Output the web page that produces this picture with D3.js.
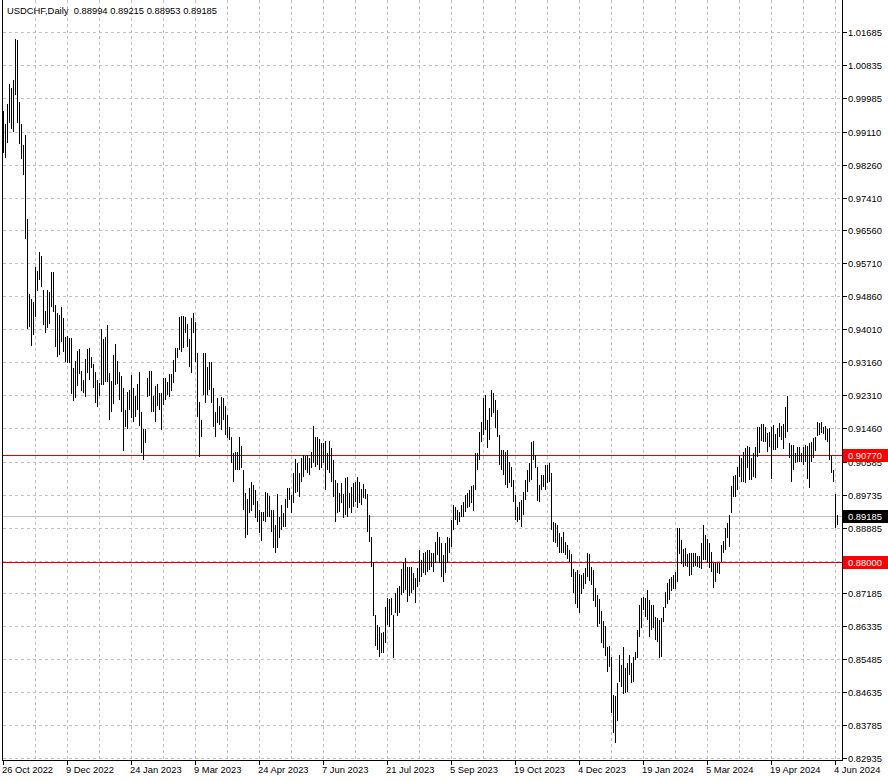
<!DOCTYPE html>
<html>
<head>
<meta charset="utf-8">
<script src="https://cdn.jsdelivr.net/npm/d3@7/dist/d3.min.js"></script>
<style>
html,body{margin:0;padding:0;background:#fff;}
svg{display:block;}
text{font-family:"Liberation Sans",Arial,sans-serif;}
</style>
</head>
<body>
<script>
// ---------- DATA ----------
const symbol = "USDCHF,Daily";
const lastOHLC = ["0.88994", "0.89215", "0.88953", "0.89185"];
const startDate = "2022-10-26";
const endDate = "2024-06-05";
const holidays = ["2023-12-25", "2024-01-01", "2024-03-29"];

const highs = [
0.9964,0.9931,0.9982,1.0034,1.0024,1.0045,1.0150,1.0148,0.9988,0.9931,
0.9877,0.9902,0.9686,0.9492,0.9479,0.9471,0.9562,0.9551,0.9600,0.9590,
0.9502,0.9448,0.9502,0.9497,0.9549,0.9549,0.9463,0.9443,0.9438,0.9458,
0.9430,0.9381,0.9383,0.9378,0.9378,0.9301,0.9319,0.9345,0.9350,0.9293,
0.9270,0.9324,0.9350,0.9352,0.9329,0.9311,0.9290,0.9270,0.9262,0.9401,
0.9376,0.9381,0.9412,0.9288,0.9267,0.9334,0.9363,0.9319,0.9290,0.9280,
0.9249,0.9192,0.9239,0.9244,0.9283,0.9249,0.9228,0.9259,0.9290,0.9187,
0.9143,0.9143,0.9275,0.9293,0.9293,0.9228,0.9254,0.9259,0.9236,0.9236,
0.9275,0.9275,0.9264,0.9285,0.9285,0.9321,0.9352,0.9352,0.9432,0.9435,
0.9435,0.9432,0.9414,0.9376,0.9430,0.9443,0.9420,0.9340,0.9213,0.9166,
0.9340,0.9340,0.9303,0.9316,0.9316,0.9249,0.9187,0.9223,0.9203,0.9226,
0.9223,0.9203,0.9179,0.9148,0.9123,0.9081,0.9084,0.9084,0.9123,0.9099,
0.9037,0.8978,0.8962,0.8991,0.9006,0.8999,0.8986,0.8957,0.8934,0.8929,
0.8929,0.8981,0.8978,0.8970,0.8934,0.8934,0.8895,0.8975,0.8916,0.8947,
0.8926,0.8962,0.8991,0.8991,0.8973,0.9030,0.9066,0.9055,0.9030,0.9068,
0.9076,0.9073,0.9076,0.9068,0.9084,0.9151,0.9123,0.9123,0.9117,0.9107,
0.9107,0.9112,0.9081,0.9112,0.9094,0.9063,0.9012,0.9004,0.8978,0.9004,
0.8975,0.9017,0.9019,0.8978,0.8993,0.9004,0.9006,0.9019,0.9006,0.8988,
0.9001,0.8988,0.8975,0.8921,0.8864,0.8800,0.8663,0.8637,0.8632,0.8616,
0.8619,0.8683,0.8707,0.8704,0.8707,0.8663,0.8720,0.8733,0.8738,0.8782,
0.8800,0.8810,0.8787,0.8787,0.8787,0.8771,0.8758,0.8784,0.8831,0.8805,
0.8823,0.8826,0.8831,0.8831,0.8823,0.8823,0.8851,0.8877,0.8864,0.8849,
0.8818,0.8849,0.8864,0.8862,0.8908,0.8947,0.8942,0.8934,0.8929,0.8947,
0.8955,0.8973,0.8978,0.8986,0.8996,0.8999,0.9081,0.9081,0.9135,0.9161,
0.9223,0.9231,0.9166,0.9197,0.9244,0.9236,0.9218,0.9192,0.9128,0.9089,
0.9089,0.9084,0.9089,0.9058,0.9045,0.9012,0.8973,0.8942,0.8955,0.8960,
0.8980,0.9012,0.9037,0.9055,0.9110,0.9112,0.9076,0.9045,0.8999,0.9024,
0.9024,0.9050,0.9050,0.9055,0.9030,0.8903,0.8901,0.8895,0.8875,0.8864,
0.8877,0.8851,0.8844,0.8831,0.8820,0.8782,0.8774,0.8779,0.8769,0.8766,
0.8771,0.8784,0.8823,0.8820,0.8787,0.8779,0.8733,0.8715,0.8704,0.8673,
0.8647,0.8634,0.8580,0.8583,0.8554,0.8456,0.8454,0.8487,0.8560,0.8534,
0.8580,0.8526,0.8539,0.8560,0.8539,0.8554,0.8567,0.8624,0.8689,0.8707,
0.8709,0.8707,0.8727,0.8702,0.8689,0.8689,0.8658,0.8655,0.8650,0.8655,
0.8683,0.8722,0.8745,0.8756,0.8761,0.8766,0.8774,0.8888,0.8888,0.8857,
0.8833,0.8836,0.8820,0.8823,0.8823,0.8823,0.8823,0.8815,0.8815,0.8849,
0.8895,0.8869,0.8859,0.8849,0.8826,0.8797,0.8797,0.8797,0.8797,0.8844,
0.8854,0.8888,0.8901,0.8921,0.8996,0.9022,0.9024,0.9045,0.9073,0.9068,
0.9084,0.9094,0.9099,0.9097,0.9068,0.9081,0.9097,0.9148,0.9148,0.9156,
0.9156,0.9148,0.9133,0.9135,0.9148,0.9154,0.9130,0.9146,0.9159,0.9151,
0.9156,0.9200,0.9228,0.9107,0.9102,0.9102,0.9081,0.9097,0.9097,0.9081,
0.9097,0.9102,0.9099,0.9107,0.9110,0.9120,0.9123,0.9161,0.9159,0.9161,
0.9148,0.9151,0.9143,0.9146,0.9073,0.9037,0.8975,0.89215
];

const lows = [
0.9856,0.9843,0.9882,0.9933,0.9918,0.9910,1.0006,0.9933,0.9879,0.9840,
0.9799,0.9634,0.9401,0.9407,0.9358,0.9386,0.9432,0.9500,0.9528,0.9510,
0.9412,0.9391,0.9404,0.9414,0.9458,0.9445,0.9355,0.9329,0.9334,0.9368,
0.9342,0.9316,0.9314,0.9314,0.9234,0.9216,0.9223,0.9254,0.9285,0.9241,
0.9236,0.9226,0.9288,0.9270,0.9301,0.9249,0.9210,0.9200,0.9228,0.9257,
0.9257,0.9264,0.9264,0.9166,0.9187,0.9208,0.9257,0.9259,0.9218,0.9187,
0.9086,0.9148,0.9143,0.9192,0.9172,0.9161,0.9174,0.9192,0.9151,0.9081,
0.9063,0.9107,0.9226,0.9228,0.9187,0.9187,0.9161,0.9203,0.9192,0.9141,
0.9205,0.9218,0.9231,0.9226,0.9241,0.9262,0.9290,0.9327,0.9347,0.9342,
0.9352,0.9391,0.9355,0.9303,0.9288,0.9391,0.9316,0.9174,0.9071,0.9123,
0.9231,0.9210,0.9231,0.9244,0.9210,0.9148,0.9123,0.9159,0.9154,0.9141,
0.9166,0.9128,0.9120,0.9115,0.9055,0.9006,0.9037,0.9037,0.9037,0.9043,
0.8934,0.8862,0.8869,0.8926,0.8931,0.8947,0.8913,0.8903,0.8875,0.8854,
0.8906,0.8903,0.8916,0.8916,0.8877,0.8836,0.8823,0.8836,0.8862,0.8882,
0.8890,0.8890,0.8939,0.8960,0.8926,0.8952,0.8978,0.8980,0.8968,0.9006,
0.9019,0.9037,0.9030,0.9024,0.9043,0.9055,0.9045,0.9050,0.9037,0.9043,
0.9055,0.8986,0.9037,0.9030,0.9006,0.8968,0.8903,0.8926,0.8929,0.8952,
0.8913,0.8921,0.8916,0.8939,0.8926,0.8942,0.8955,0.8939,0.8952,0.8947,
0.8965,0.8963,0.8877,0.8851,0.8787,0.8660,0.8583,0.8572,0.8554,0.8565,
0.8565,0.8591,0.8637,0.8632,0.8663,0.8552,0.8668,0.8660,0.8668,0.8715,
0.8720,0.8727,0.8696,0.8712,0.8720,0.8727,0.8694,0.8735,0.8748,0.8761,
0.8771,0.8766,0.8774,0.8779,0.8787,0.8774,0.8797,0.8818,0.8797,0.8761,
0.8748,0.8771,0.8797,0.8823,0.8838,0.8882,0.8908,0.8895,0.8903,0.8916,
0.8916,0.8929,0.8939,0.8942,0.8952,0.8931,0.8986,0.9037,0.9063,0.9110,
0.9128,0.9141,0.9094,0.9115,0.9174,0.9185,0.9146,0.9123,0.9050,0.9037,
0.9024,0.8999,0.8991,0.9004,0.8993,0.8955,0.8908,0.8903,0.8908,0.8890,
0.8921,0.8960,0.8980,0.9006,0.9012,0.9063,0.9043,0.8957,0.8955,0.8986,
0.8993,0.8986,0.9004,0.9006,0.8882,0.8851,0.8849,0.8838,0.8823,0.8823,
0.8823,0.8818,0.8807,0.8800,0.8761,0.8720,0.8691,0.8681,0.8668,0.8717,
0.8730,0.8743,0.8761,0.8751,0.8740,0.8699,0.8683,0.8632,0.8640,0.8591,
0.8578,0.8557,0.8516,0.8528,0.8410,0.8358,0.8332,0.8389,0.8490,0.8477,
0.8459,0.8461,0.8464,0.8508,0.8487,0.8490,0.8547,0.8552,0.8606,0.8629,
0.8676,0.8658,0.8650,0.8606,0.8624,0.8629,0.8598,0.8593,0.8552,0.8554,
0.8645,0.8681,0.8691,0.8702,0.8725,0.8730,0.8730,0.8748,0.8820,0.8795,
0.8787,0.8789,0.8787,0.8764,0.8766,0.8787,0.8789,0.8787,0.8784,0.8782,
0.8805,0.8805,0.8797,0.8784,0.8774,0.8733,0.8748,0.8771,0.8769,0.8800,
0.8823,0.8831,0.8862,0.8838,0.8926,0.8968,0.8968,0.8986,0.9019,0.9006,
0.9006,0.9004,0.9043,0.9012,0.9012,0.9019,0.9017,0.9071,0.9081,0.9112,
0.9110,0.9110,0.9084,0.9097,0.9014,0.9089,0.9089,0.9094,0.9123,0.9115,
0.9092,0.9120,0.9135,0.9068,0.9006,0.9037,0.9055,0.9058,0.9058,0.9058,
0.9050,0.9058,0.9014,0.8991,0.9058,0.9068,0.9086,0.9125,0.9128,0.9133,
0.9130,0.9115,0.9110,0.9063,0.9030,0.9006,0.8888,0.88953
];

const priceTicks = ["1.01685","1.00835","0.99985","0.99110","0.98260","0.97410","0.96560",
  "0.95710","0.94860","0.94010","0.93160","0.92310","0.91460","0.90585","0.89735",
  "0.88885","0.88035","0.87185","0.86335","0.85485","0.84635","0.83785","0.82935"];
const dateTicks = ["26 Oct 2022","9 Dec 2022","24 Jan 2023","9 Mar 2023","24 Apr 2023",
  "7 Jun 2023","21 Jul 2023","5 Sep 2023","19 Oct 2023","4 Dec 2023","19 Jan 2024",
  "5 Mar 2024","19 Apr 2024","4 Jun 2024"];
const levelLines = [ {price:"0.90770", color:"#e00000", label:"#ff0000"},
                     {price:"0.88000", color:"#e00000", label:"#ff0000"} ];
const bidPrice = "0.89185";

(function draw() {
  // ---------- DATES (weekday bars) ----------
  const fmtKey = d3.timeFormat("%Y-%m-%d");
  const fmtLbl = d => `${d.getDate()} ${d3.timeFormat("%b %Y")(d)}`;
  const parse = d3.timeParse("%Y-%m-%d");
  const dates = d3.timeDay.range(parse(startDate), d3.timeDay.offset(parse(endDate), 1))
    .filter(d => d.getDay() !== 0 && d.getDay() !== 6 && !holidays.includes(fmtKey(d)));
  const bars = dates.map((d, i) => ({date: d, high: highs[i], low: lows[i]}))
    .filter(b => b.high != null);

  // ---------- LAYOUT ----------
  const W = 888, H = 781;
  const L = 2, R = 842, T = 0, B = 760;

  const svg = d3.select("body").append("svg").attr("width", W).attr("height", H)
    .attr("shape-rendering", "crispEdges");

  const y = d3.scaleLinear().domain([0.82935, 1.01685]).range([758, 32]);
  const x = d3.scaleLinear().domain([0, 417]).range([3, 837]);
  const py = v => Math.round(y(+v));

  // grid
  const grid = svg.append("g").attr("stroke", "#c0c0c0").attr("stroke-dasharray", "3,3");
  priceTicks.forEach(t => {
    grid.append("line").attr("x1", L + 1).attr("x2", R)
      .attr("y1", py(t) + 0.5).attr("y2", py(t) + 0.5);
  });
  d3.range(16, bars.length, 16).forEach(i => {
    grid.append("line").attr("x1", x(i) + 0.5).attr("x2", x(i) + 0.5)
      .attr("y1", T).attr("y2", B);
  });

  // level lines
  svg.append("line").attr("x1", L).attr("x2", R)
    .attr("y1", py(bidPrice) + 0.5).attr("y2", py(bidPrice) + 0.5).attr("stroke", "#c0c0c0");
  levelLines.forEach(l => {
    svg.append("line").attr("x1", L).attr("x2", R + 4)
      .attr("y1", py(l.price) + 0.5).attr("y2", py(l.price) + 0.5).attr("stroke", l.color);
  });

  // bars
  svg.append("g").selectAll("rect").data(bars).join("rect")
    .attr("x", (d, i) => x(i)).attr("width", 1)
    .attr("y", d => Math.round(y(d.high)))
    .attr("height", d => Math.max(1, Math.round(y(d.low)) - Math.round(y(d.high))))
    .attr("fill", "#000");

  // frame / axes
  svg.append("line").attr("x1", L + 0.5).attr("x2", L + 0.5).attr("y1", T).attr("y2", B + 1).attr("stroke", "#000");
  svg.append("line").attr("x1", R + 0.5).attr("x2", R + 0.5).attr("y1", T).attr("y2", B + 1).attr("stroke", "#000");
  svg.append("line").attr("x1", L).attr("x2", R + 1).attr("y1", B + 0.5).attr("y2", B + 0.5).attr("stroke", "#000");

  // right axis ticks and labels
  const ra = svg.append("g");
  priceTicks.forEach(t => {
    ra.append("line").attr("x1", R + 1).attr("x2", R + 5)
      .attr("y1", py(t) + 0.5).attr("y2", py(t) + 0.5).attr("stroke", "#000");
    ra.append("text").attr("x", 848).attr("y", py(t) + 4)
      .attr("font-size", "9.4px").attr("fill", "#000").text(t);
  });

  // price labels on right
  function priceLabel(price, bg) {
    const yy = py(price);
    svg.append("rect").attr("x", 843).attr("y", yy - 6).attr("width", 45).attr("height", 13).attr("fill", bg);
    svg.append("text").attr("x", 848).attr("y", yy + 4).attr("font-size", "9.4px")
      .attr("fill", "#fff").text(price);
  }
  levelLines.forEach(l => priceLabel(l.price, l.label));
  priceLabel(bidPrice, "#000");

  // bottom axis ticks and labels
  const ba = svg.append("g");
  dateTicks.forEach(lbl => {
    const i = dates.findIndex(d => fmtLbl(d) === lbl);
    if (i < 0) return;
    ba.append("line").attr("x1", x(i) + 0.5).attr("x2", x(i) + 0.5)
      .attr("y1", B + 1).attr("y2", B + 5).attr("stroke", "#000");
    ba.append("text").attr("x", x(i) - 1).attr("y", 773)
      .attr("font-size", "9.4px").attr("fill", "#000").text(lbl);
  });

  // header
  svg.append("text").attr("x", 7).attr("y", 14).attr("font-size", "9.4px").attr("fill", "#000")
    .attr("xml:space", "preserve")
    .text(symbol + "  " + lastOHLC.join(" "));
})();
</script>
</body>
</html>
